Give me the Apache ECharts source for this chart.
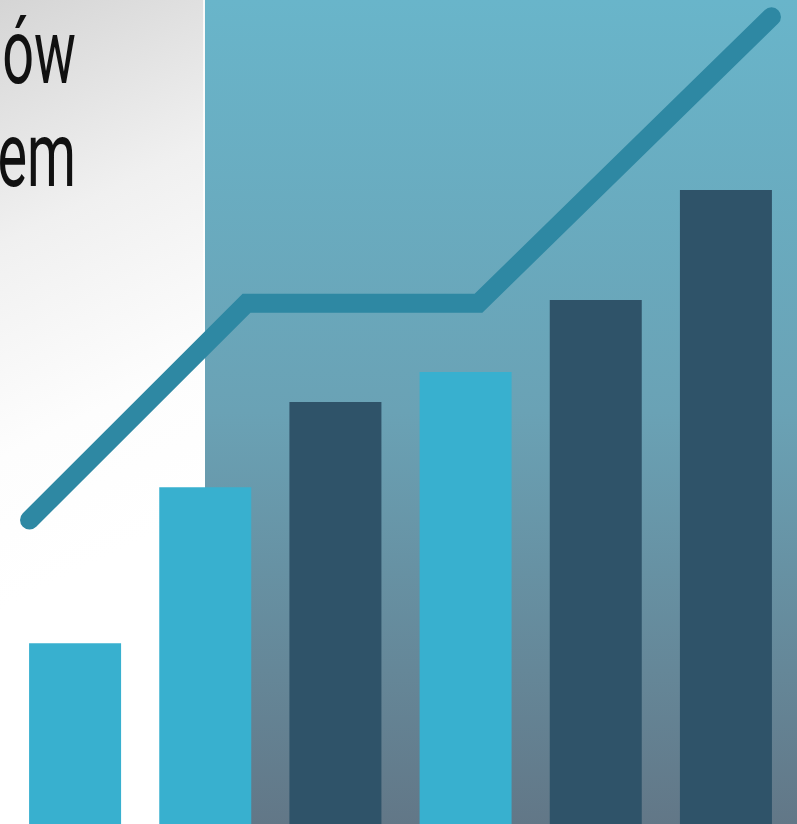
<!DOCTYPE html>
<html>
<head>
<meta charset="utf-8">
<script src="https://cdn.jsdelivr.net/npm/echarts@6/dist/echarts.min.js"></script>
<style>
html,body{margin:0;padding:0;background:#fff;}
#c{width:797px;height:824px;}
</style>
</head>
<body>
<div id="c"></div>
<script>
// categories
var categories = ['1', '2', '3', '4', '5', '6'];
// bar values
var barValues = [22.6, 42.1, 52.75, 56.5, 65.5, 79.25];
var barTones = ['light', 'light', 'dark', 'light', 'dark', 'dark'];
// trend line (x in category units, y in value units)
var lineX = [-0.35, 1.317, 3.099, 5.35];
var lineY = [38, 65.1, 65.1, 100.9];
// title fragments (cropped)
var titleLines = ['ów', 'em'];

var chart = echarts.init(document.getElementById('c'), null, {renderer: 'canvas'});

var barData = barValues.map(function (v, i) {
  return {value: v, itemStyle: {color: barTones[i] === 'light' ? '#38b0cf' : '#2f5369'}};
});
var lineData = lineX.map(function (x, i) { return [x, lineY[i]]; });

var option = {
  backgroundColor: {
    type: 'linear', x: 0, y: 0, x2: 0.3, y2: 0.6,
    colorStops: [
      {offset: 0, color: '#d5d5d5'},
      {offset: 0.4, color: '#f0f0f0'},
      {offset: 0.75, color: '#fdfdfd'},
      {offset: 1, color: '#ffffff'}
    ]
  },
  animation: false,
  graphic: [
    {
      type: 'rect', z: -10,
      shape: {x: 205, y: 0, width: 592, height: 824},
      style: {
        fill: {
          type: 'linear', x: 0, y: 0, x2: 0, y2: 1,
          colorStops: [
            {offset: 0, color: '#69b5ca'},
            {offset: 0.5, color: '#6aa2b5'},
            {offset: 1, color: '#627787'}
          ]
        }
      }
    },
    {
      type: 'rect', z: -9,
      shape: {x: 203, y: 0, width: 2, height: 824},
      style: {fill: 'rgba(255,255,255,0.8)'}
    },
    {
      type: 'text', z: 10, x: 76, y: 105, scaleX: 0.62,
      style: {text: titleLines[0], fill: '#111', font: '400 90px Roboto', textAlign: 'right', textVerticalAlign: 'bottom'}
    },
    {
      type: 'text', z: 10, x: 76, y: 208, scaleX: 0.62,
      style: {text: titleLines[1], fill: '#111', font: '400 90px Roboto', textAlign: 'right', textVerticalAlign: 'bottom'}
    }
  ],
  grid: {left: 10, right: 6, top: 0, bottom: 0, containLabel: false},
  xAxis: [
    {type: 'category', data: categories, show: false, boundaryGap: true},
    {type: 'value', min: -0.5, max: 5.5, show: false}
  ],
  yAxis: {type: 'value', min: 0, max: 103, show: false},
  series: [
    {
      type: 'bar', xAxisIndex: 0, data: barData, barWidth: 92, z: 2
    },
    {
      type: 'line', xAxisIndex: 1, data: lineData, symbol: 'none', clip: false, z: 5,
      lineStyle: {color: '#2e88a3', width: 19, cap: 'round', join: 'miter'}
    }
  ]
};
chart.setOption(option);
</script>
</body>
</html>
